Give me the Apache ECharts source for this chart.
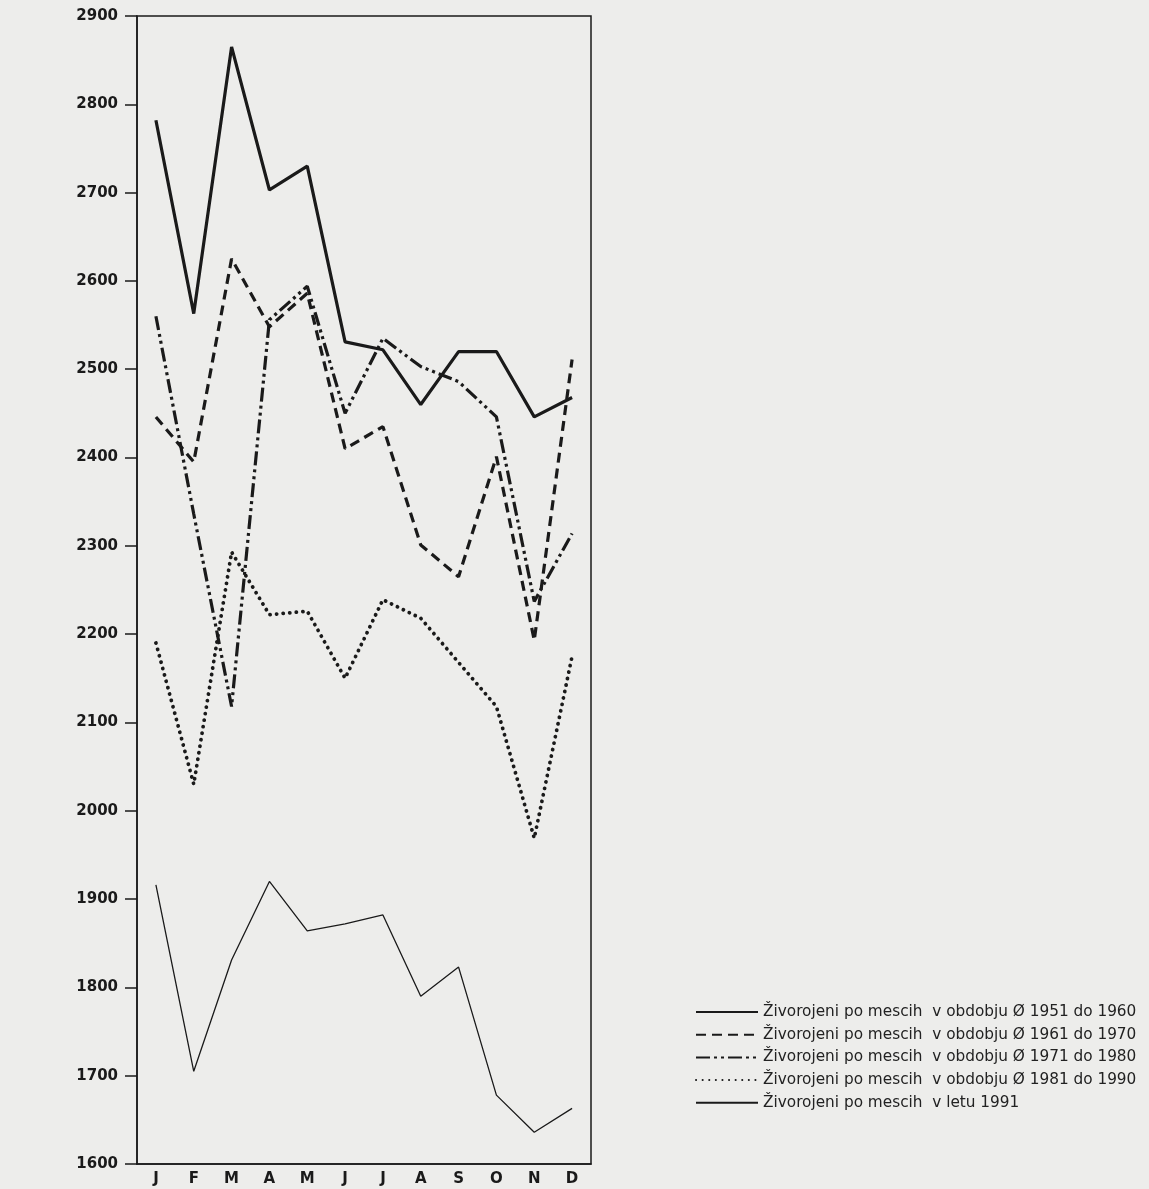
<!DOCTYPE html>
<html>
<head>
<meta charset="utf-8">
<script src="https://cdn.jsdelivr.net/npm/echarts@6/dist/echarts.min.js"></script>
<style>
  html, body { margin: 0; padding: 0; background: #ededeb; }
  #chart { width: 1149px; height: 1189px; }
</style>
</head>
<body>
<div id="chart"></div>
<script>
// months (Slovenian initials)
var months = ['J', 'F', 'M', 'A', 'M', 'J', 'J', 'A', 'S', 'O', 'N', 'D'];

// live births per month, averages per decade + 1991
var avg1951 = [2782, 2563, 2865, 2703, 2730, 2531, 2522, 2460, 2520, 2520, 2446, 2468];
var avg1961 = [2446, 2395, 2625, 2548, 2586, 2410, 2435, 2301, 2265, 2401, 2193, 2511];
var avg1971 = [2560, 2336, 2118, 2556, 2594, 2450, 2535, 2503, 2486, 2446, 2237, 2314];
var avg1981 = [2190, 2030, 2293, 2222, 2226, 2150, 2239, 2218, 2168, 2118, 1969, 2175];
var year1991 = [1916, 1705, 1831, 1920, 1864, 1872, 1882, 1790, 1823, 1678, 1636, 1663];

var names = [
  'Živorojeni po mescih  v obdobju Ø 1951 do 1960',
  'Živorojeni po mescih  v obdobju Ø 1961 do 1970',
  'Živorojeni po mescih  v obdobju Ø 1971 do 1980',
  'Živorojeni po mescih  v obdobju Ø 1981 do 1990',
  'Živorojeni po mescih  v letu 1991'
];

var ink = '#1a1a1a';
var font = 'DejaVu Sans, Liberation Sans, sans-serif';

function line(name, data, style) {
  return {
    name: name,
    type: 'line',
    data: data,
    symbol: 'none',
    animation: false,
    lineStyle: Object.assign({ color: ink }, style),
    itemStyle: { color: ink, opacity: 0 }
  };
}

var chart = echarts.init(document.getElementById('chart'));
chart.setOption({
  backgroundColor: '#ededeb',
  grid: {
    left: 137, right: 558, top: 16, bottom: 25,
    show: true, borderColor: ink, borderWidth: 1.5, backgroundColor: 'transparent'
  },
  legend: {
    orient: 'vertical',
    left: 690, top: 998,
    itemWidth: 62, itemHeight: 14, itemGap: 4.7,
    itemStyle: { opacity: 0 },
    textStyle: { fontFamily: font, fontSize: 15.3, lineHeight: 18, color: '#222' },
    data: names
  },
  xAxis: {
    type: 'category',
    data: months,
    boundaryGap: true,
    axisLine: { lineStyle: { color: ink, width: 1.5 } },
    axisTick: { inside: true, length: 10, lineStyle: { color: ink, width: 1.5 } },
    axisLabel: { fontFamily: font, fontWeight: 'bold', fontSize: 15, color: ink, margin: 8 }
  },
  yAxis: {
    type: 'value',
    min: 1600, max: 2900, interval: 100,
    splitLine: { show: false },
    axisLine: { show: true, lineStyle: { color: ink, width: 1.5 } },
    axisTick: { show: true, length: 12, lineStyle: { color: ink, width: 1.5 } },
    axisLabel: {
      fontFamily: font, fontWeight: 'bold', fontSize: 15, color: ink, margin: 19,
      formatter: function (v) { return String(v); }
    }
  },
  series: [
    line(names[0], avg1951, { width: 3.2 }),
    line(names[1], avg1961, { width: 3.2, type: [10, 6] }),
    line(names[2], avg1971, { width: 3.2, type: [14, 4, 3, 4, 3, 4] }),
    line(names[3], avg1981, { width: 3.8, type: [0.1, 6.5], cap: 'round' }),
    line(names[4], year1991, { width: 1.3 })
  ]
});
</script>
</body>
</html>
